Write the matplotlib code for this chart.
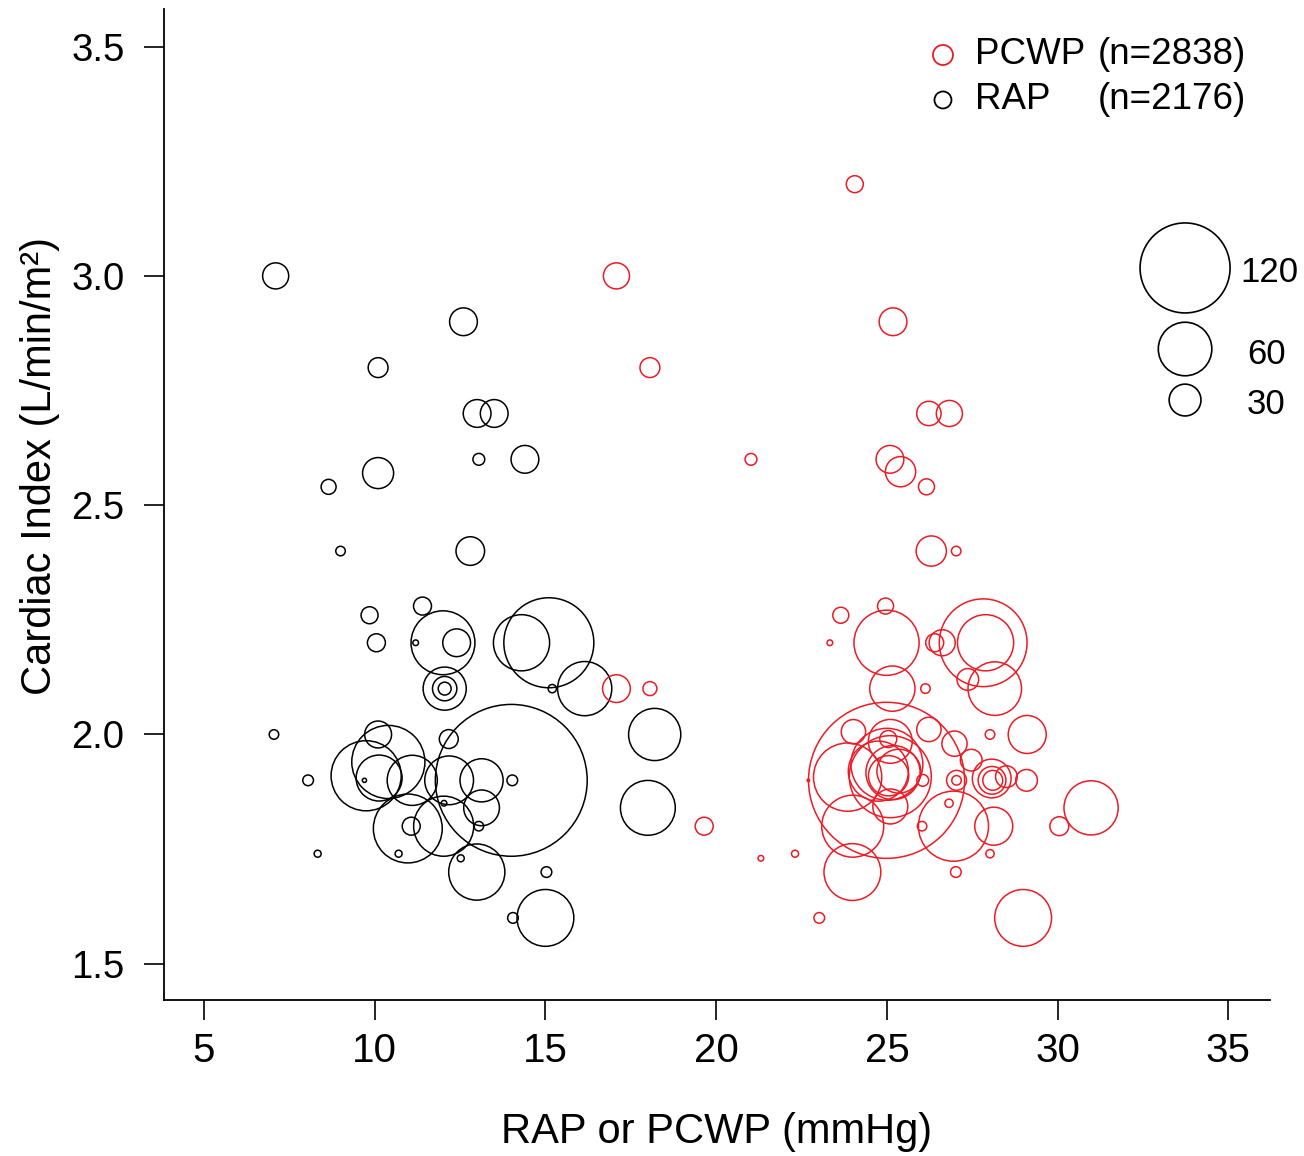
import matplotlib
matplotlib.use("Agg")
import matplotlib.pyplot as plt
import numpy as np

plt.rcParams['font.family'] = ['Liberation Sans', 'DejaVu Sans']

# RAP studies: pressure (mmHg), cardiac index, number of patients
rap_x = [7.1, 12.6, 10.1, 13.0, 13.5, 13.05, 14.4, 10.1, 8.65, 9.0, 12.8,
         9.85, 11.4, 10.05, 12.0, 12.4, 11.2, 12.05, 12.05, 12.05, 14.3, 15.1,
         15.2, 16.15, 18.2, 18.0, 7.05, 8.05, 8.33, 14.0, 14.03, 10.1, 9.75,
         10.4, 10.13, 9.7, 11.1, 12.18, 13.13, 12.17, 10.97, 11.07, 12.02,
         13.13, 13.05, 12.03, 10.7, 12.52, 12.99, 15.03, 15.0, 14.05]
rap_ci = [3.00, 2.90, 2.80, 2.70, 2.70, 2.60, 2.60, 2.57, 2.54, 2.40, 2.40,
          2.26, 2.28, 2.20, 2.20, 2.20, 2.20, 2.10, 2.10, 2.10, 2.20, 2.20,
          2.10, 2.10, 2.00, 1.84, 2.00, 1.90, 1.74, 1.90, 1.90, 2.00, 1.91,
          1.94, 1.905, 1.90, 1.90, 1.90, 1.90, 1.99, 1.795, 1.80, 1.80,
          1.84, 1.80, 1.85, 1.74, 1.73, 1.70, 1.70, 1.60, 1.60]
rap_n = [23, 25, 16, 25, 25, 8, 25, 29, 11, 6, 26,
         13, 14, 14, 76, 25, 3, 45, 21, 9, 64, 120,
         5, 61, 58, 62, 6, 7, 4, 241, 7, 24, 86,
         91, 49, 2, 55, 53, 45, 15, 84, 14, 70,
         35, 6, 3, 4, 4, 64, 7, 65, 7]

# PCWP studies
pcwp_x = [17.08, 18.06, 24.06, 25.18, 26.23, 26.83, 21.02, 25.09, 25.4, 26.16,
          26.3, 27.03, 17.08, 18.06, 23.65, 24.96, 24.99, 23.33, 26.4, 26.62,
          27.82, 27.89, 26.13, 25.16, 27.37, 28.16, 28.02, 29.11, 24.99, 24.02,
          25.04, 25.1, 25.1, 25.0, 25.18, 25.05, 24.75, 25.35, 26.98, 26.23,
          27.47, 27.04, 27.04, 28.07, 28.08, 28.1, 28.5, 29.09, 30.98, 30.05,
          28.13, 26.95, 26.03, 26.82, 28.02, 27.02, 23.99, 24.0, 23.85, 23.02,
          28.99, 19.65, 21.31, 22.31, 22.7, 25.1, 26.05]
pcwp_ci = [3.00, 2.80, 3.20, 2.90, 2.70, 2.70, 2.60, 2.60, 2.573, 2.54,
           2.40, 2.40, 2.10, 2.10, 2.26, 2.28, 2.20, 2.20, 2.20, 2.20,
           2.20, 2.20, 2.10, 2.10, 2.12, 2.10, 2.00, 2.00, 1.90, 2.006,
           1.99, 1.985, 1.908, 1.935, 1.917, 1.91, 1.92, 1.92, 1.98, 2.011,
           1.944, 1.90, 1.90, 1.904, 1.90, 1.90, 1.908, 1.90, 1.84, 1.80,
           1.80, 1.80, 1.80, 1.85, 1.74, 1.70, 1.70, 1.80, 1.907, 1.60,
           1.60, 1.80, 1.73, 1.74, 1.90, 1.843, 1.90]
pcwp_n = [23, 16, 13, 25, 21, 23, 8, 25, 28, 12,
          28, 6, 25, 10, 12, 12, 78, 3, 14, 23,
          116, 64, 6, 48, 18, 60, 6, 38, 250, 21,
          13, 46, 106, 89, 61, 41, 70, 46, 22, 21,
          18, 16, 6, 39, 25, 16, 18, 18, 61, 15,
          38, 86, 6, 5, 5, 7, 65, 73, 83, 7,
          65, 14, 3, 4, 1, 34, 8]

size_keys = [120, 60, 30]
red = '#ec1b24'


def marker_area(n):
    # bubble radius in pixels, converted to scatter area (points^2)
    r = 45 * (np.asarray(n, dtype=float) / 120) ** 0.75
    return (2 * r * 0.72) ** 2


fig = plt.figure(figsize=(13.04, 11.56), dpi=100)
ax = fig.add_axes([0.12577, 0.13495, 0.84816, 0.85727])

ax.scatter(rap_x, rap_ci, s=marker_area(rap_n), facecolors='none',
           edgecolors='black', linewidths=1.1)
ax.scatter(pcwp_x, pcwp_ci, s=marker_area(pcwp_n), facecolors='none',
           edgecolors=red, linewidths=1.1)

ax.set_xlim(3.83, 36.22)
ax.set_ylim(1.421, 3.582)
ax.set_xticks([5, 10, 15, 20, 25, 30, 35])
ax.set_yticks([1.5, 2.0, 2.5, 3.0, 3.5])
ax.set_yticklabels(['1.5', '2.0', '2.5', '3.0', '3.5'])
ax.spines['top'].set_visible(False)
ax.spines['right'].set_visible(False)
for sp in ['left', 'bottom']:
    ax.spines[sp].set_linewidth(1.3)
ax.tick_params(axis='both', direction='out', length=14.4, width=1.2)
ax.tick_params(axis='x', labelsize=29, pad=9)
ax.tick_params(axis='y', labelsize=27.5, pad=14)

ax.set_xlabel('RAP or PCWP (mmHg)', fontsize=30)
ax.xaxis.set_label_coords(0.5, -0.133)
ax.xaxis.label.set_va('center')
ax.set_ylabel('Cardiac Index (L/min/m²)', fontsize=30)
ax.yaxis.set_label_coords(-0.112, 0.539)
ax.yaxis.label.set_va('center')

# group legend
ax.scatter([0.7043], [0.9536], s=(2 * 10 * 0.72) ** 2, facecolors='none',
           edgecolors=red, linewidths=1.3, transform=ax.transAxes, clip_on=False)
ax.scatter([0.7043], [0.9082], s=(2 * 8.5 * 0.72) ** 2, facecolors='none',
           edgecolors='black', linewidths=1.3, transform=ax.transAxes, clip_on=False)
ax.text(0.7333, 0.9536, 'PCWP', fontsize=26.5, va='center', ha='left',
        transform=ax.transAxes)
ax.text(0.9783, 0.9536, '(n=2838)', fontsize=26.5, va='center', ha='right',
        transform=ax.transAxes)
ax.text(0.7333, 0.9082, 'RAP', fontsize=26.5, va='center', ha='left',
        transform=ax.transAxes)
ax.text(0.9783, 0.9082, '(n=2176)', fontsize=26.5, va='center', ha='right',
        transform=ax.transAxes)

# bubble size key
key_y = [0.7387, 0.6569, 0.6054]
ax.scatter([0.9232] * 3, key_y, s=marker_area(size_keys), facecolors='none',
           edgecolors='black', linewidths=1.2, transform=ax.transAxes, clip_on=False)
for k, yy, xx in zip(size_keys, [0.7346, 0.6509, 0.6014], [0.9729, 0.9792, 0.9792]):
    ax.text(xx, yy, str(k), fontsize=25, va='center', ha='left',
            transform=ax.transAxes)

fig.savefig('out.png', dpi=100)
